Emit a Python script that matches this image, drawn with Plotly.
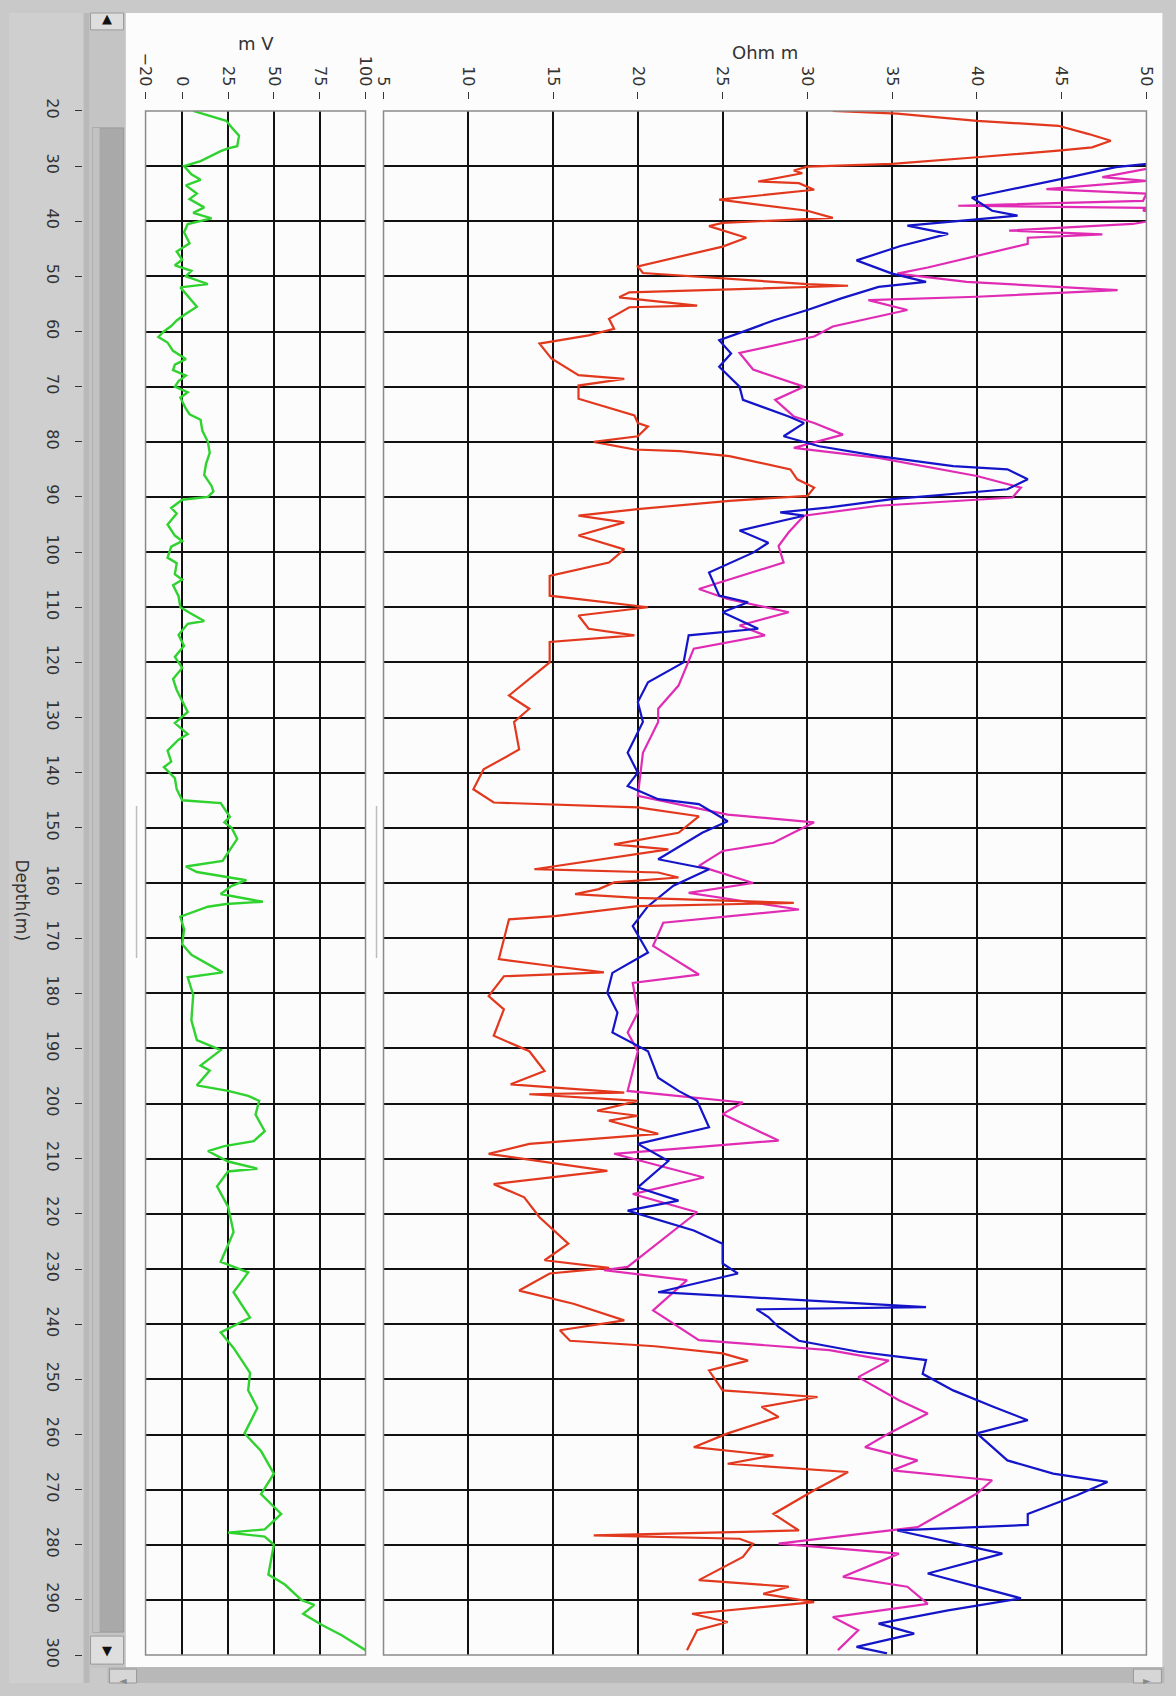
import plotly.graph_objects as go

W, H = 1176, 1696

# ---------------- data ----------------
depth_ticks = list(range(20, 301, 10))
mv_ticks = [-20, 0, 25, 50, 75, 100]
ohm_ticks = [5, 10, 15, 20, 25, 30, 35, 40, 45, 50]

sp_depth = [20, 21.8, 23, 24.5, 26.4, 26.8, 27.3, 29.1, 30, 31.5, 32.5, 33.5, 35, 36, 37.5, 38.5, 39.5,
            40.5, 42, 44, 45.5, 47, 48, 49, 50, 51.4, 52, 54, 55.5, 57, 58, 59, 60, 61, 62, 63.5, 65,
            66, 67, 68, 69, 70, 71, 72, 74, 75, 76, 78, 80, 82, 84, 86, 88, 89, 90, 90.5, 92, 93, 95,
            97, 98, 99, 101, 102, 104, 105, 106, 108, 110, 111, 112.5, 113, 115, 117, 119, 121, 123,
            125, 127, 129, 131, 133, 134, 136, 138, 139, 140, 141, 143, 145, 145.5, 147, 148, 149, 150,
            152, 154, 156, 157, 158, 159.5, 160.5, 162, 163.4, 163.8, 164.3, 166.1, 168.4, 171.1, 173,
            176.2, 177.1, 180.3, 184.9, 188.5, 190.3, 193.1, 194, 196.7, 197.7, 198.6, 199.5, 202, 205,
            206.8, 207.7, 208.6, 210.5, 211.8, 212.3, 215, 218.7, 223.3, 228.7, 230.6, 234.2, 238.8,
            241.5, 244.3, 248.8, 252, 255.2, 259.8, 263, 267.1, 270.8, 274.4, 277.2, 277.8, 278.5, 280,
            285.4, 287.2, 290, 290.9, 292.5, 294.5, 296.4, 299.1]
sp_mv = [6, 24, 27, 31, 30, 25, 21, 10, 1, 5, 10, 2, 8, 4, 12, 6, 16,
         3, 1, 4, -3, 0, -4, 5, 2, 14, -1, 4, 8, 1, -3, -6, -10, -13, -8, -5, 2,
         -4, -5, 2, -2, -4, 3, -1, 2, 4, 10, 11, 14, 15, 13, 12, 16, 17, 14, 0, -6, -3, -8,
         -4, 0, -6, -8, -3, -4, 0, -5, -2, -1, 4, 12, 3, -2, 1, -4, 0, -5,
         -3, 0, 3, -4, 3, -2, -8, -6, -10, -7, -4, -3, 0, 21, 24, 26, 23, 27,
         30, 26, 22, 2, 8, 35, 27, 21, 44, 24, 14, -1, 1, 0, 5,
         22, 3, 6, 5, 8, 21, 10, 15, 8, 25, 36, 42, 40, 45,
         39, 23, 14, 25, 41, 25, 19, 25, 28, 21, 36, 28, 37,
         21, 28, 37, 36, 41, 34, 43, 50, 43, 54, 45, 25, 45, 50,
         47, 56, 65, 72, 66, 76, 87, 100]

red_depth = [20, 20.5, 21.8, 22.7, 24.2, 25.4, 26.6, 27.2, 28.4, 29.6, 30.1, 30.8, 31.3, 32.8, 33.1, 34.3,
             36.1, 38.1, 39.4, 40.3, 40.9, 43, 44.6, 48.2, 49.4, 50.5, 51.4, 51.7, 52.3, 52.9, 53.8, 55.3,
             55.6, 57.7, 59.5, 60.7, 62.2, 64.9, 67.9, 68.6, 69.8, 72.2, 75.2, 76.6, 77.2, 79, 80, 81.4,
             81.7, 82.6, 85, 86.8, 88.3, 89.8, 90.7, 92.2, 93.4, 94.6, 97, 99.5, 101.9, 104.3, 107.9,
             109.7, 110, 111.5, 113.9, 115.1, 116.3, 120, 126, 128.4, 130.8, 135.8, 139.4, 143, 145.4,
             146.3, 147.9, 150.9, 153, 153.9, 157.5, 158.1, 159, 159.9, 161.1, 162, 162.7, 163.6, 164.2,
             166, 166.6, 170.2, 173.8, 175, 176.2, 176.9, 180.5, 182.9, 187.7, 190.5, 194.1, 196.5, 198,
             198.3, 199.5, 201.3, 202.2, 203.1, 205.5, 207.3, 209.1, 212.2, 214.6, 217, 220.6, 225.4,
             228.4, 229.8, 230.8, 233.9, 236.3, 239.3, 241.1, 243, 244, 245.3, 246.6, 248.4, 252, 253.2,
             255, 256.8, 259.8, 262.3, 263.8, 265.3, 266.8, 268.3, 270.1, 274.4, 277.4, 278.3, 278.9,
             279.8, 282.2, 286.4, 287.6, 288.9, 290.4, 292.5, 294, 295.5, 299.1]
red_ohm = [31.5, 35.3, 40, 44.8, 46.6, 47.9, 46.8, 44.8, 40, 35, 30, 29.2, 29.7, 27.1, 29.5, 30.4,
           24.8, 30, 31.5, 25, 24.2, 26.4, 25, 20, 20.3, 25.3, 30, 32.4, 25.3, 19.5, 18.9, 23.5,
           19.5, 18.3, 18.6, 17.1, 14.2, 14.9, 16.5, 19.2, 16.5, 16.5, 19.8, 20, 20.6, 20, 17.4, 19.8,
           22.5, 25.4, 29, 29.4, 30.4, 30, 25.4, 20, 16.5, 19.2, 16.5, 19.2, 18.3, 14.8, 14.8,
           20, 20.6, 16.5, 17.1, 19.8, 14.8, 14.8, 12.4, 13.6, 12.7, 13, 10.9, 10.3, 11.5,
           20, 23.6, 22.4, 18.6, 21.8, 13.9, 21.2, 22.4, 18.6, 17.7, 16.3, 20, 29.2, 20,
           15.1, 12.4, 12.1, 11.8, 14.8, 18, 12.1, 11.2, 12.1, 11.5, 13.6, 14.5, 12.5, 19.2,
           13.6, 20, 17.6, 20, 18.3, 21.2, 13.6, 11.2, 18.2, 11.5, 13.3, 14.2, 15.9,
           14.5, 18.3, 14.8, 13, 16.2, 19.2, 15.4, 16, 21, 25, 26.5, 24.2, 25, 30.6,
           27.3, 28.3, 25.3, 23.3, 28, 25.3, 32.4, 31.5, 30.4, 28, 29.5, 17.4, 26,
           26.8, 26.2, 23.6, 28.9, 27.4, 30.4, 23.2, 25.3, 23.5, 22.9]

blue_depth = [29, 29.6, 30.2, 32, 33.9, 35.7, 38.1, 39, 40.8, 42.3, 44.5, 47.1, 49.5, 51, 51.9, 54, 56.1,
              58, 59.7, 61.6, 64, 66.4, 70, 72.4, 75.4, 76.6, 79, 80.8, 82.6, 84.4, 85, 86.8, 88.6, 89.5,
              90.4, 91.9, 92.8, 93.4, 96.1, 98.3, 100.1, 103.7, 107.9, 109.1, 110.9, 113.9, 115.1, 120,
              123.6, 127.2, 130.8, 136.4, 140, 142.4, 144.8, 145.7, 148.8, 150.9, 155.7, 157.5, 160.5,
              164.2, 167.8, 172.6, 176.3, 179.9, 183.5, 187.1, 190.5, 195.3, 197.7, 199.5, 204.3, 207.3,
              210.4, 215.2, 217.6, 219.4, 223, 225.4, 229, 230.8, 234.2, 235.1, 236.9, 237.3, 238.7,
              240.5, 243, 245, 246.5, 249, 252, 255, 257.4, 259.8, 264.7, 267.1, 268.6, 271, 274.4,
              276.4, 277.4, 281.6, 285.2, 289.7, 291.9, 294.3, 296.1, 298.5, 299.7]
blue_ohm = [52, 50, 48.2, 45.5, 42.6, 39.7, 40.9, 42.4, 35.9, 38.3, 35.5, 32.9, 35, 37, 34.2, 32, 30,
            28, 26.5, 24.8, 25.5, 24.8, 26, 26.2, 28.9, 29.8, 28.6, 30.7, 34.2, 38.6, 41.8, 43, 41.8, 38.6,
            35, 31.3, 28.4, 29.8, 26, 27.7, 26.8, 24.2, 24.8, 26.5, 25, 27.1, 23, 22.7,
            20.6, 20, 20.3, 19.4, 20, 19.4, 21.2, 23.6, 25.3, 23.8, 21.2, 24.2, 22.1,
            20.6, 19.7, 20.6, 18.5, 18.2, 18.8, 18.5, 20.6, 21.2, 22.4, 23.5, 24.2, 20,
            21.8, 20, 22.4, 19.4, 23.3, 25, 25, 25.9, 21.2, 26.5, 37, 27, 27.7,
            28.3, 29.5, 33, 37, 36.8, 38.6, 41, 43, 40, 41.8, 44.5, 47.7, 45.9, 43,
            43, 35.3, 41.5, 37.1, 42.6, 38.3, 34.2, 36.3, 32.9, 34.7]

mag_depth = [30, 30.5, 32, 32.7, 34.2, 35, 36.3, 37.2, 37.6, 38.1, 39, 40.5, 41.7, 42.4, 43, 44.1, 48.4,
             49.5, 51, 52.5, 53.7, 54.3, 56.1, 59.1, 60.9, 63.9, 66.9, 70, 72.4, 75.4, 76.6, 78.7, 81.1,
             82.9, 86.2, 88.3, 90.1, 91.6, 93.4, 96.4, 98.9, 101.9, 106.7, 108.5, 110.9, 113.3, 115.1,
             117.5, 124.2, 128.4, 130.8, 136.4, 144.2, 147.6, 149, 152.7, 154.2, 156.9, 160, 161.8,
             164.8, 167.2, 171.4, 176.6, 178.1, 183.5, 187.1, 190.5, 197.7, 199.8, 201.9, 206.7, 209.1,
             213.4, 216.4, 219.7, 229.6, 230.2, 232, 237.5, 242.9, 244.7, 246.6, 249.6, 253.8, 256.2,
             259.8, 262.3, 264.7, 266.5, 268.3, 270.7, 276.8, 279.8, 281.6, 285.8, 287.6, 290.7, 293.1,
             295.5, 299.1]
mag_ohm = [52, 50, 47.4, 50, 44.1, 50, 49.8, 38.9, 50, 49.8, 52, 49.2, 41.9, 47.4, 43, 43, 37.1,
           35.3, 39.4, 48.3, 40, 33.6, 35.9, 31.5, 30.4, 26, 26.8, 29.8, 28.1, 29.2, 30.4, 32.1, 29.2,
           34.2, 40, 42.6, 42.1, 34.2, 29.8, 28.9, 28.3, 28.6, 23.6, 25.3, 28.9, 26, 27.5,
           23.3, 22.4, 21.2, 21.2, 20.3, 20, 25.3, 30.4, 28, 25, 23.6, 26.8, 23,
           29.5, 21.5, 20.9, 23.6, 19.7, 20, 19.4, 20, 19.4, 26.2, 25, 28.3, 18.6,
           23.9, 19.7, 23.5, 19.4, 18, 22.9, 20.9, 23.6, 31.3, 34.8, 33, 35.4, 37.1,
           34.8, 33.4, 36.5, 35, 40.9, 40, 36.5, 28.3, 35.4, 32.1, 35.9, 37.1, 31.5,
           33, 31.8]


# ---------------- helpers (pixel -> paper) ----------------
# slight expansion about the page centre to match the photographed geometry
SX, SY = 1.0163, 1.0157


def ax_(x):
    return 588 + (x - 588) * SX


def ay_(y):
    return 848 + (y - 848) * SY


def px(x):
    return min(1.0, max(0.0, ax_(x) / W))


def py(y):
    return min(1.0, max(0.0, 1 - ay_(y) / H))


Y_TOP, Y_BOT = 111, 1655
MV_L, MV_R = 146, 366
OHM_L, OHM_R = 384, 1147

fig = go.Figure()
fig.add_trace(go.Scatter(x=sp_mv, y=sp_depth, mode="lines", line=dict(color="#2fd22f", width=2.4),
                         xaxis="x", yaxis="y", name="SP"))
fig.add_trace(go.Scatter(x=mag_ohm, y=mag_depth, mode="lines", line=dict(color="#e02cb4", width=2.2),
                         xaxis="x2", yaxis="y2", name="R2"))
fig.add_trace(go.Scatter(x=blue_ohm, y=blue_depth, mode="lines", line=dict(color="#1414c8", width=2.2),
                         xaxis="x2", yaxis="y2", name="R3"))
fig.add_trace(go.Scatter(x=red_ohm, y=red_depth, mode="lines", line=dict(color="#e2381e", width=2.2),
                         xaxis="x2", yaxis="y2", name="R1"))

tickfont = dict(family="DejaVu Sans", size=16, color="#333333")
grid = dict(showgrid=True, gridcolor="#111111", gridwidth=1.7, zeroline=False, showline=False)

fig.update_layout(
    width=W, height=H, autosize=False,
    margin=dict(l=0, r=0, t=0, b=0),
    paper_bgcolor="#c9c9c9",
    plot_bgcolor="#f7f7f7",
    showlegend=False,
    xaxis=dict(domain=[px(MV_L), px(MV_R)], range=[-20, 100], anchor="free", position=py(99),
               side="top", tickvals=mv_ticks, ticks="outside", ticklen=7, tickcolor="#333",
               tickangle=90, tickfont=tickfont, **grid),
    xaxis2=dict(domain=[px(OHM_L), px(OHM_R)], range=[5, 50], anchor="free", position=py(99),
                side="top", tickvals=ohm_ticks, ticks="outside", ticklen=7, tickcolor="#333",
                tickangle=90, tickfont=tickfont, **grid),
    yaxis=dict(domain=[py(Y_BOT), py(Y_TOP)], range=[300, 20], anchor="free", position=px(82),
               side="left", tickvals=depth_ticks, ticks="outside", ticklen=7, tickcolor="#333",
               ticklabelstandoff=8,
               tickangle=90, tickfont=dict(family="DejaVu Sans", size=16, color="#333333"), **grid),
    yaxis2=dict(domain=[py(Y_BOT), py(Y_TOP)], range=[300, 20], anchor="x2",
                tickvals=depth_ticks, showticklabels=False, ticks="", **grid),
)


def rect(x0, x1, y0, y1, fill, line=None, layer="below"):
    return dict(type="rect", xref="paper", yref="paper", x0=px(x0), x1=px(x1), y0=py(y1), y1=py(y0),
                fillcolor=fill, line=line or dict(width=0), layer=layer)


shapes = []
shapes.append(rect(126, 1163, -20, 1667, "#fcfcfc"))                       # chart white area
shapes.append(rect(-20, 88, -20, 1720, "#cfcfcf"))                         # left label strip
shapes.append(rect(84, 90, -20, 1720, "#b9b9b9"))
shapes.append(rect(90, 126, -20, 1668, "#c4c4c4"))                         # scrollbar track
shapes.append(rect(93, 124, 128, 1632, "#a9a9a9", dict(color="#9a9a9a", width=1)))  # thumb
shapes.append(rect(93, 100, 128, 1632, "#c2c2c2"))
for (a, b) in [(8, 30), (1636, 1664)]:
    shapes.append(rect(91, 124, a, b, "#dedede", dict(color="#9a9a9a", width=1)))
shapes.append(rect(108, 1165, 1667, 1720, "#b8b8b8"))                      # bottom scrollbar
for (a, b) in [(110, 137), (1134, 1162)]:
    shapes.append(rect(a, b, 1669, 1692, "#d6d6d6", dict(color="#999999", width=1)))
for (l, r) in [(MV_L, MV_R), (OHM_L, OHM_R)]:                              # panel borders
    shapes.append(rect(l, r, Y_TOP, Y_BOT, "rgba(0,0,0,0)", dict(color="#8a8a8a", width=1.5), "above"))
for xx in [137, 377]:                                                      # faint cursor marks
    shapes.append(dict(type="line", xref="paper", yref="paper", x0=px(xx), x1=px(xx), y0=py(958), y1=py(806),
                       line=dict(color="#bdbdbd", width=1.5), layer="above"))
fig.update_layout(shapes=shapes)


def note(text, x, y, size, color="#333333", angle=0):
    return dict(text=text, x=px(x), y=py(y), xref="paper", yref="paper", showarrow=False, textangle=angle,
                font=dict(family="DejaVu Sans", size=size, color=color), xanchor="center", yanchor="middle")


ann = [
    note("m V", 256, 44, 18),
    note("Ohm m", 766, 53, 18),
    note("Depth(m)", 22, 900, 17, angle=90),
    note("▲", 107, 19, 13, "#111111"),
    note("▼", 107, 1650, 13, "#111111"),
    note("◄", 123, 1680, 10, "#888888"),
    note("►", 1148, 1680, 10, "#888888"),
]
fig.update_layout(annotations=ann)

fig.write_html("out.html", config={"displayModeBar": False},
               post_script="document.body.style.margin='0';document.body.style.overflow='hidden';"
                           "document.documentElement.style.overflow='hidden';")
